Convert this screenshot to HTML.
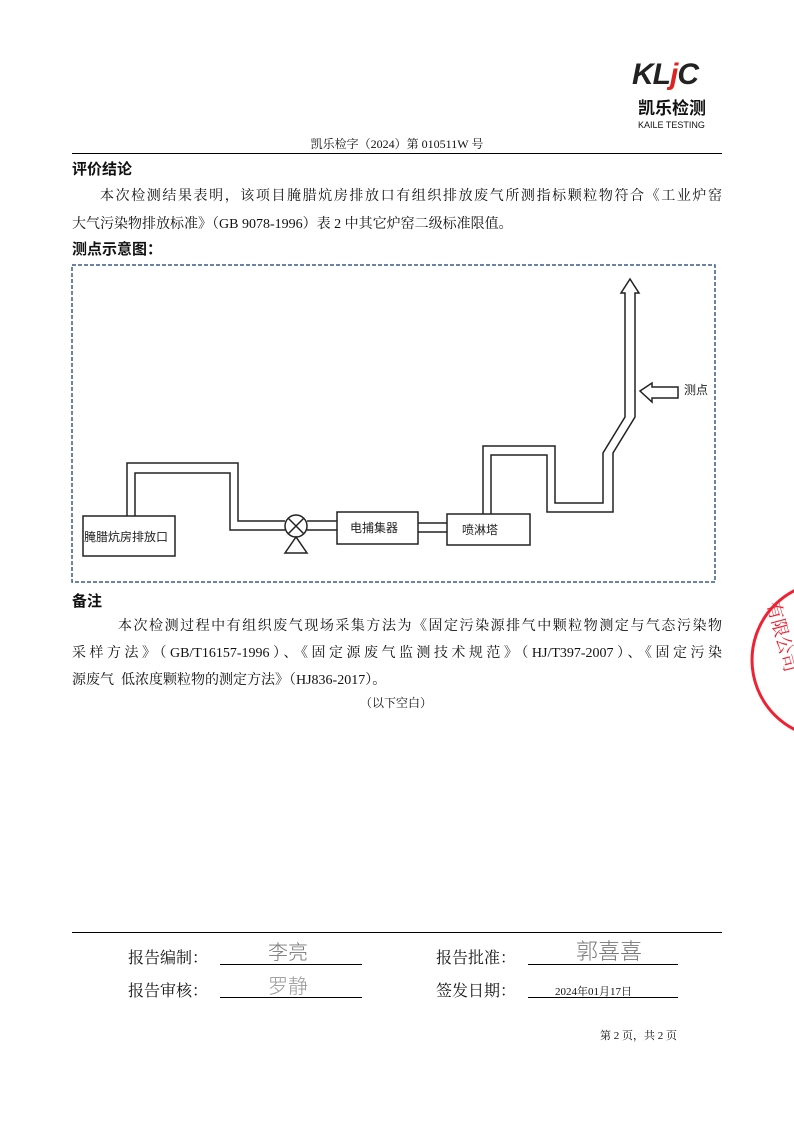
<!DOCTYPE html>
<html><head><meta charset="utf-8"><style>
body{margin:0;background:#fff;}
.pg{position:relative;width:794px;height:1123px;overflow:hidden;font-family:"Liberation Serif","Noto Serif CJK SC","Noto Sans CJK SC",serif;color:#111;}
.a{position:absolute;white-space:nowrap;}
.h{font-weight:bold;font-size:15px;font-family:"Liberation Sans","Noto Sans CJK SC",sans-serif;}
.b{font-size:14px;}
.j{text-align:justify;text-align-last:justify;white-space:normal;}
</style></head><body><div class="pg">
<div class="a" style="left:632px;top:58px;font:italic bold 30px 'Liberation Sans',sans-serif;color:#222;letter-spacing:-1px;">KL<span style="color:#d22">j</span>C</div>
<div class="a" style="left:638px;top:94px;font:bold 17px 'Liberation Sans','Noto Sans CJK SC',sans-serif;">凯乐检测</div>
<div class="a" style="left:638px;top:120px;font:9px 'Liberation Sans',sans-serif;">KAILE TESTING</div>
<div class="a b" style="left:0;width:794px;text-align:center;top:135px;font-size:12px;">凯乐检字（2024）第 010511W 号</div>
<div class="a" style="left:72px;top:153px;width:650px;border-top:1px solid #000;"></div>
<div class="a h" style="left:72px;top:158px;">评价结论</div>
<div class="a b j" style="left:100px;width:622px;top:185px;">本次检测结果表明，该项目腌腊炕房排放口有组织排放废气所测指标颗粒物符合《工业炉窑</div>
<div class="a b" style="left:72px;top:213px;">大气污染物排放标准》（GB 9078-1996）表 2 中其它炉窑二级标准限值。</div>
<div class="a h" style="left:72px;top:238px;">测点示意图：</div>
<svg class="a" style="left:0;top:0" width="794" height="1123">
<rect x="72" y="265" width="643" height="317" fill="none" stroke="#3a5a8c" stroke-width="1.5" stroke-dasharray="4,2"/>
<g fill="none" stroke="#222" stroke-width="1.5">
<rect x="83" y="516" width="92" height="40"/>
<polyline points="127,516 127,463 238,463 238,521 285,521"/>
<polyline points="135,516 135,473 230,473 230,530 285,530"/>
<circle cx="296" cy="526" r="11"/>
<line x1="288" y1="518" x2="304" y2="534"/><line x1="304" y1="518" x2="288" y2="534"/>
<polygon points="296,537 285,553 307,553"/>
<line x1="307" y1="521" x2="337" y2="521"/><line x1="307" y1="530" x2="337" y2="530"/>
<rect x="337" y="512" width="81" height="32"/>
<line x1="418" y1="523" x2="447" y2="523"/><line x1="418" y1="532" x2="447" y2="532"/>
<rect x="447" y="514" width="83" height="31"/>
<polyline points="483,514 483,446 555,446 555,503 603,503 603,453 625,417 625,293 621,293 630,279 639,293 635,293 635,417 613,453 613,512 547,512 547,455 491,455 491,514"/>
<polygon points="640,391 652,383 652,387 678,387 678,398 652,398 652,402"/>
</g>
<text x="684" y="394" font-size="12" font-family="Noto Sans CJK SC,sans-serif" fill="#222">测点</text>
<text x="84" y="541" font-size="12" font-family="Noto Sans CJK SC,sans-serif" fill="#222">腌腊炕房排放口</text>
<text x="350" y="532" font-size="12" font-family="Noto Sans CJK SC,sans-serif" fill="#222">电捕集器</text>
<text x="462" y="534" font-size="12" font-family="Noto Sans CJK SC,sans-serif" fill="#222">喷淋塔</text>
<circle cx="830" cy="660" r="78" fill="none" stroke="#e23" stroke-width="3"/>
<text x="758" y="615" font-size="18" fill="#e23" transform="rotate(75 770 615)">有限公司</text>
</svg>
<div class="a h" style="left:72px;top:590px;">备注</div>
<div class="a b j" style="left:118px;width:604px;top:615px;">本次检测过程中有组织废气现场采集方法为《固定污染源排气中颗粒物测定与气态污染物</div>
<div class="a b j" style="left:72px;width:650px;top:642px;">采样方法》（GB/T16157-1996）、《固定源废气监测技术规范》（HJ/T397-2007）、《固定污染</div>
<div class="a b" style="left:72px;top:669px;">源废气&nbsp; 低浓度颗粒物的测定方法》（HJ836-2017）。</div>
<div class="a b" style="left:360px;top:694px;font-size:12px;">（以下空白）</div>
<div class="a" style="left:72px;top:932px;width:650px;border-top:1.5px solid #000;"></div>
<div class="a" style="left:128px;top:945px;font-size:16px;">报告编制：</div>
<div class="a" style="left:128px;top:978px;font-size:16px;">报告审核：</div>
<div class="a" style="left:436px;top:945px;font-size:16px;">报告批准：</div>
<div class="a" style="left:436px;top:978px;font-size:16px;">签发日期：</div>
<div class="a" style="left:220px;top:964px;width:142px;border-top:1.5px solid #000;"></div>
<div class="a" style="left:220px;top:997px;width:142px;border-top:1.5px solid #000;"></div>
<div class="a" style="left:528px;top:964px;width:150px;border-top:1.5px solid #000;"></div>
<div class="a" style="left:528px;top:997px;width:150px;border-top:1.5px solid #000;"></div>
<div class="a" style="left:268px;top:936px;font-size:20px;color:#777;font-family:'Liberation Sans','Noto Sans CJK SC',sans-serif;font-weight:300;">李亮</div>
<div class="a" style="left:268px;top:970px;font-size:20px;color:#999;font-family:'Liberation Sans','Noto Sans CJK SC',sans-serif;font-weight:300;">罗静</div>
<div class="a" style="left:576px;top:934px;font-size:22px;color:#777;font-family:'Liberation Sans','Noto Sans CJK SC',sans-serif;font-weight:300;">郭喜喜</div>
<div class="a" style="left:555px;top:983px;font-size:11px;">2024年01月17日</div>
<div class="a" style="left:600px;top:1027px;font-size:11px;">第 2 页，共 2 页</div>
</div></body></html>
